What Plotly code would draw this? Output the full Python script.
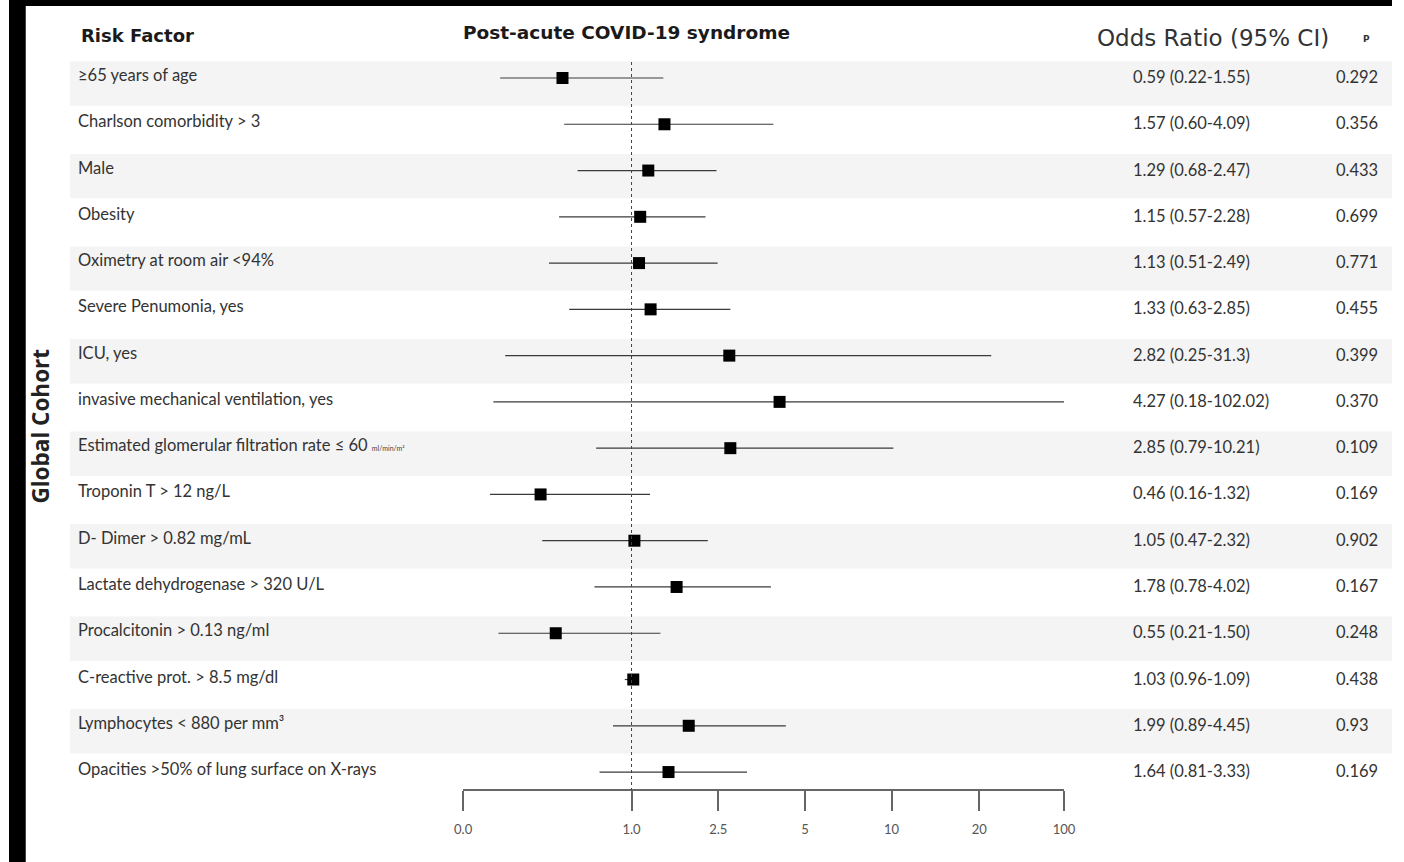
import numpy as np
import plotly.graph_objects as go

# ---------------- data ----------------
factors = [
    "≥65 years of age",
    "Charlson comorbidity > 3",
    "Male",
    "Obesity",
    "Oximetry at room air <94%",
    "Severe Penumonia, yes",
    "ICU, yes",
    "invasive mechanical ventilation, yes",
    "Estimated glomerular filtration rate ≤ 60 <span style='font-size:7px;color:#444'>ml/min/m²</span>",
    "Troponin T > 12 ng/L",
    "D- Dimer > 0.82 mg/mL",
    "Lactate dehydrogenase > 320 U/L",
    "Procalcitonin > 0.13 ng/ml",
    "C-reactive prot. > 8.5 mg/dl",
    "Lymphocytes < 880 per mm³",
    "Opacities >50% of lung surface on X-rays",
]
odds = [0.59, 1.57, 1.29, 1.15, 1.13, 1.33, 2.82, 4.27, 2.85, 0.46, 1.05, 1.78, 0.55, 1.03, 1.99, 1.64]
ci_low = [0.22, 0.60, 0.68, 0.57, 0.51, 0.63, 0.25, 0.18, 0.79, 0.16, 0.47, 0.78, 0.21, 0.96, 0.89, 0.81]
ci_high = [1.55, 4.09, 2.47, 2.28, 2.49, 2.85, 31.3, 102.02, 10.21, 1.32, 2.32, 4.02, 1.50, 1.09, 4.45, 3.33]
or_text = [
    "0.59 (0.22-1.55)", "1.57 (0.60-4.09)", "1.29 (0.68-2.47)", "1.15 (0.57-2.28)",
    "1.13 (0.51-2.49)", "1.33 (0.63-2.85)", "2.82 (0.25-31.3)", "4.27 (0.18-102.02)",
    "2.85 (0.79-10.21)", "0.46 (0.16-1.32)", "1.05 (0.47-2.32)", "1.78 (0.78-4.02)",
    "0.55 (0.21-1.50)", "1.03 (0.96-1.09)", "1.99 (0.89-4.45)", "1.64 (0.81-3.33)",
]
p_values = ["0.292", "0.356", "0.433", "0.699", "0.771", "0.455", "0.399", "0.370",
            "0.109", "0.169", "0.902", "0.167", "0.248", "0.438", "0.93", "0.169"]
tick_values = [0.0, 1.0, 2.5, 5, 10, 20, 100]
tick_labels = ["0.0", "1.0", "2.5", "5", "10", "20", "100"]

# ---------------- custom (piecewise) axis scale ----------------
tick_pos = [0.0, 1.943, 2.943, 3.943, 4.943, 5.955, 6.932]


def scale(v):
    return np.interp(np.asarray(v, dtype=float), tick_values, tick_pos)


W, H = 1404, 862
n = len(factors)
rows = np.arange(n)
row0_px, row_step = 78.0, 46.27
y_top = -row0_px / row_step
y_bot = (n - 1) + (H - (row0_px + (n - 1) * row_step)) / row_step


def px_x(p):
    return p / W


def px_y(p):
    return 1 - p / H


LABEL_FONT = "Lato, 'Open Sans', sans-serif"
HEAD_FONT = "'DejaVu Sans', sans-serif"
TXT = 16.5

fig = go.Figure()

# confidence-interval whiskers
lx, ly = [], []
for i in rows:
    lx += [scale(ci_low[i]), scale(ci_high[i]), None]
    ly += [i, i, None]
fig.add_trace(go.Scatter(x=lx, y=ly, mode="lines",
                         line=dict(color="#3a3a3a", width=1.2),
                         hoverinfo="skip", showlegend=False))
# point estimates
fig.add_trace(go.Scatter(x=scale(odds), y=rows, mode="markers",
                         marker=dict(symbol="square", size=12, color="black"),
                         showlegend=False, cliponaxis=False))

shapes = []
# alternating row shading
for i in rows:
    if i % 2 == 0:
        shapes.append(dict(type="rect", xref="paper", yref="y",
                           x0=px_x(62), x1=1, y0=i - 0.36, y1=i + 0.6,
                           fillcolor="#f4f4f4", line=dict(width=0), layer="below"))
# reference line at OR = 1
shapes.append(dict(type="line", xref="x", yref="paper",
                   x0=float(scale(1.0)), x1=float(scale(1.0)),
                   y0=px_y(62), y1=px_y(790),
                   line=dict(color="#444", width=1, dash="dot")))
# black frame pieces of the original image
shapes.append(dict(type="rect", xref="paper", yref="paper", x0=0, x1=px_x(17), y0=0, y1=1,
                   fillcolor="black", line=dict(width=0)))
shapes.append(dict(type="rect", xref="paper", yref="paper", x0=0, x1=1, y0=px_y(6), y1=1,
                   fillcolor="black", line=dict(width=0)))

annotations = []
for i in rows:
    annotations.append(dict(xref="paper", yref="y", x=px_x(68), y=i, yshift=3,
                            text=factors[i], showarrow=False, xanchor="left", yanchor="middle",
                            font=dict(family=LABEL_FONT, size=TXT, color="#333")))
    annotations.append(dict(xref="paper", yref="y", x=px_x(1139), y=i, yshift=1,
                            text=or_text[i], showarrow=False, xanchor="left", yanchor="middle",
                            font=dict(family=LABEL_FONT, size=TXT, color="#333")))
    annotations.append(dict(xref="paper", yref="y", x=px_x(1345), y=i, yshift=1,
                            text=p_values[i], showarrow=False, xanchor="left", yanchor="middle",
                            font=dict(family=LABEL_FONT, size=TXT, color="#333")))

annotations += [
    dict(xref="paper", yref="paper", x=px_x(71), y=px_y(35), text="<b>Risk Factor</b>",
         showarrow=False, xanchor="left", yanchor="middle",
         font=dict(family=HEAD_FONT, size=18, color="#1a1a1a")),
    dict(xref="paper", yref="paper", x=px_x(627), y=px_y(33), text="<b>Post-acute COVID-19 syndrome</b>",
         showarrow=False, xanchor="center", yanchor="middle",
         font=dict(family=HEAD_FONT, size=18.5, color="#1a1a1a")),
    dict(xref="paper", yref="paper", x=px_x(1102), y=px_y(38), text="Odds Ratio (95% CI)",
         showarrow=False, xanchor="left", yanchor="middle",
         font=dict(family=HEAD_FONT, size=23, color="#333")),
    dict(xref="paper", yref="paper", x=px_x(1378), y=px_y(39), text="<b>P</b>",
         showarrow=False, xanchor="center", yanchor="middle",
         font=dict(family=HEAD_FONT, size=9, color="#333")),
    dict(xref="paper", yref="paper", x=px_x(31), y=px_y(426), text="<b>Global Cohort</b>",
         showarrow=False, xanchor="center", yanchor="middle", textangle=-90,
         font=dict(family="'Open Sans', sans-serif", size=22.5, color="#222")),
]

fig.update_layout(
    width=W, height=H,
    margin=dict(l=0, r=0, t=0, b=0),
    paper_bgcolor="white", plot_bgcolor="rgba(0,0,0,0)",
    shapes=shapes, annotations=annotations,
    showlegend=False,
    xaxis=dict(domain=[px_x(461), px_x(1071)], range=[0, tick_pos[-1]],
               tickmode="array", tickvals=tick_pos, ticktext=tick_labels,
               showgrid=False, zeroline=False, showline=True, linecolor="#666", linewidth=1.5,
               ticks="outside", ticklen=20, tickwidth=1.5, tickcolor="#666",
               ticklabelstandoff=8,
               tickfont=dict(family=LABEL_FONT, size=13, color="#555"),
               anchor="free", position=px_y(790), fixedrange=True),
    yaxis=dict(domain=[0, 1], range=[y_bot, y_top], visible=False, fixedrange=True),
)

fig.write_html("out.html", config={"displayModeBar": False, "responsive": False},
               post_script="document.body.style.margin='0';")
